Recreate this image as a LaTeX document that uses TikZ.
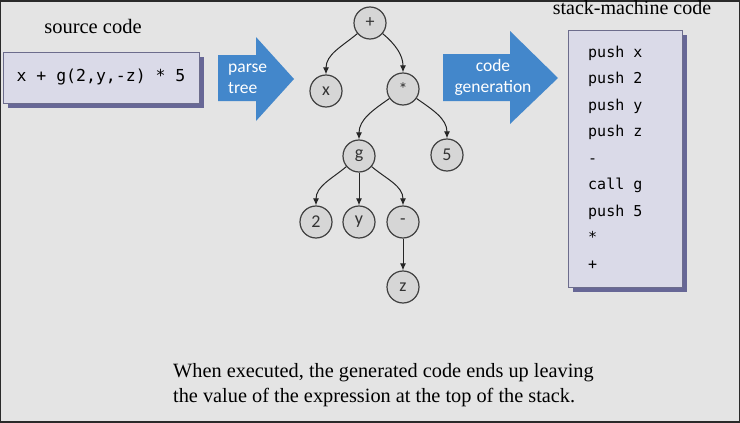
\documentclass[tikz,border=0pt]{standalone}
\usepackage{fontspec}
\setmainfont{Liberation Serif}
\setsansfont{Carlito}
\setmonofont{DejaVu Sans Mono}
\usetikzlibrary{arrows.meta,positioning,shadows}

\definecolor{bggray}{HTML}{E4E4E4}
\definecolor{framegray}{HTML}{2A2A2A}
\definecolor{boxfill}{HTML}{DADAE8}
\definecolor{boxline}{HTML}{6C6C8C}
\definecolor{boxshadow}{HTML}{5A5A8E}
\definecolor{arrowblue}{HTML}{4387CB}
\definecolor{nodefill}{HTML}{D6D6D6}
\definecolor{nodeline}{HTML}{404040}

\begin{document}
\begin{tikzpicture}[x=1pt,y=1pt,
    treenode/.style={circle, draw=nodeline, line width=1.2pt, fill=nodefill, minimum size=32pt, inner sep=0pt, font=\sffamily\fontsize{18}{18}\selectfont, text=black!80},
    edge/.style={-{Latex[length=7pt,width=6pt]}, line width=1pt, draw=black!85},
    codebox/.style={draw=boxline, line width=1pt, fill=boxfill, drop shadow={shadow xshift=5pt, shadow yshift=-5pt, fill=boxshadow, opacity=0.9}},
    codeline/.style={anchor=base west, inner sep=0pt, font=\ttfamily\fontsize{15}{15}\selectfont},
    bigarrow/.style={fill=arrowblue},
    arrowtext/.style={text=white, font=\sffamily\fontsize{17.5}{21}\selectfont, inner sep=0pt},
    heading/.style={font=\fontsize{20.5}{20.5}\selectfont, inner sep=0pt, anchor=base}
  ]
  \fill[framegray] (0,0) rectangle (740,-423);
  \fill[bggray] (1,-2) rectangle (739,-421);
  \useasboundingbox (0,0) rectangle (740,-423);

  % source side
  \node[heading] (srctitle) at (93,-34) {source code};
  \node[codebox, minimum width=196pt, minimum height=51pt, font=\ttfamily\fontsize{16.5}{16.5}\selectfont] (src) at (101,-77.5) {x + g(2,y,-z) * 5};

  \fill[bigarrow] (218,-55) -- (256,-55) -- (256,-37) -- (294,-79) -- (256,-121) -- (256,-101) -- (218,-101) -- cycle;
  \node[arrowtext, align=left, anchor=west] (parse) at (228,-79) {parse\\tree};

  % parse tree
  \node[treenode] (plus) at (370,-23) {+};
  \node[treenode] (x) at (326,-91) {x};
  \node[treenode] (times) at (403,-89) {*};
  \node[treenode] (g) at (359,-156) {g};
  \node[treenode] (five) at (447,-155) {5};
  \node[treenode] (two) at (316,-222) {2};
  \node[treenode] (y) at (359,-222) {y};
  \node[treenode] (minus) at (403,-222) {-};
  \node[treenode] (z) at (403,-287) {z};

  \draw[edge] (plus) to[out=-140, in=90] (x);
  \draw[edge] (plus) to[out=-40, in=90] (times);
  \draw[edge] (times) to[out=-145, in=90] (g);
  \draw[edge] (times) to[out=-35, in=90] (five);
  \draw[edge] (g) to[out=-140, in=90] (two);
  \draw[edge] (g) -- (y);
  \draw[edge] (g) to[out=-40, in=90] (minus);
  \draw[edge] (minus) -- (z);

  \fill[bigarrow] (443,-54) -- (510,-54) -- (510,-31) -- (558,-78) -- (510,-124) -- (510,-101) -- (443,-101) -- cycle;
  \node[arrowtext, align=center] (codegen) at (493,-77) {code\\generation};

  % stack machine side
  \node[heading, font=\fontsize{20}{20}\selectfont] (stacktitle) at (632,-15) {stack-machine code};
  \node[codebox, minimum width=114pt, minimum height=257pt] (stack) at (625,-158.5) {};
  \node[codeline] (l1) at (588,-57) {push x};
  \node[codeline] (l2) at (588,-83.5) {push 2};
  \node[codeline] (l3) at (588,-110) {push y};
  \node[codeline] (l4) at (588,-136.5) {push z};
  \node[codeline] (l5) at (588,-163) {-};
  \node[codeline] (l6) at (588,-189.5) {call g};
  \node[codeline] (l7) at (588,-216) {push 5};
  \node[codeline] (l8) at (588,-242.5) {*};
  \node[codeline] (l9) at (588,-269) {+};

  \node[anchor=base west, align=left, inner sep=0pt, font=\fontsize{20.3}{25}\selectfont] (note) at (173,-402) {When executed, the generated code ends up leaving\\the value of the expression at the top of the stack.};
\end{tikzpicture}
\end{document}
